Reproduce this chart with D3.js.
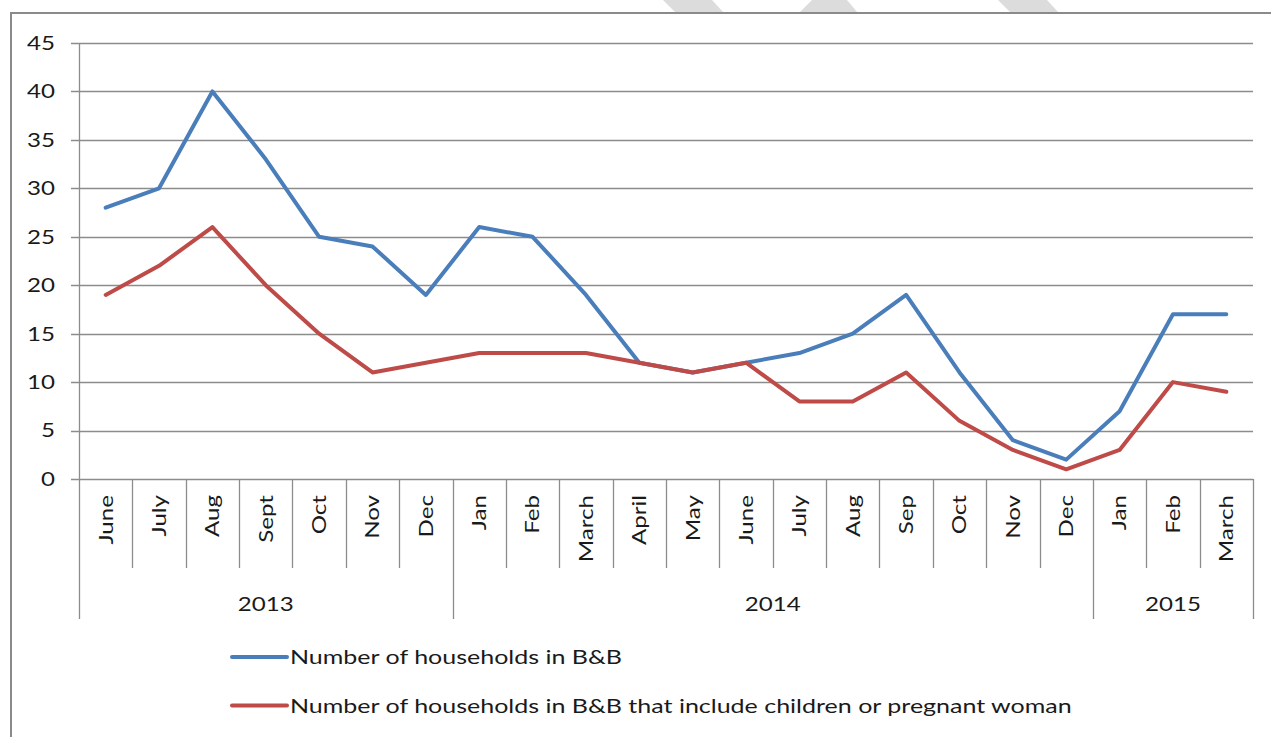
<!DOCTYPE html>
<html>
<head>
<meta charset="utf-8">
<script src="https://cdn.jsdelivr.net/npm/d3@7"></script>
<style>
  body { margin: 0; background: #fff; }
  text { font-family: Lato, "Noto Sans", sans-serif; fill: #1a1a1a; }
</style>
</head>
<body>
<script>
"use strict"
const w = 1271;
const h = 737;

// data
const months = ['June', 'July', 'Aug', 'Sept', 'Oct', 'Nov', 'Dec',
  'Jan', 'Feb', 'March', 'April', 'May', 'June', 'July', 'Aug', 'Sep', 'Oct', 'Nov', 'Dec',
  'Jan', 'Feb', 'March'];
const years = ['2013', '2014', '2015'];
const yearMonths = [7, 12, 3];
const allHouseholds = [28, 30, 40, 33, 25, 24, 19, 26, 25, 19, 12, 11, 12, 13, 15, 19, 11, 4, 2, 7, 17, 17];
const withChildren = [19, 22, 26, 20, 15, 11, 12, 13, 13, 13, 12, 11, 12, 8, 8, 11, 6, 3, 1, 3, 10, 9];
const yTicks = [0, 5, 10, 15, 20, 25, 30, 35, 40, 45];
const seriesNames = ['Number of households in B&B',
  'Number of households in B&B that include children or pregnant woman'];
const colors = ['#4a7ebb', '#be4b48'];

const plotLeft = 79, plotRight = 1253, plotTop = 43, plotBottom = 479;
// the original font renders wider than Lato, so stretch glyphs along the text
const stretch = 'scale(1.27,1)';

const mySvg = d3.select('body')
  .append('svg')
  .attr('width', w)
  .attr('height', h);

// faint watermark bits above the frame
const marks = [
  [[663, 0], [712, 0], [723, 12], [675, 12]],
  [[812, 0], [847, 0], [857, 12], [800, 12]],
  [[998, 0], [1047, 0], [1058, 12], [1010, 12]]
];
mySvg.selectAll('polygon.wm')
  .data(marks)
  .enter()
  .append('polygon')
  .attr('points', d => d.map(p => p.join(',')).join(' '))
  .attr('fill', '#dcdcdc');

// chart frame
mySvg.append('path')
  .attr('d', 'M11,' + (h + 2) + ' V13 H' + (w + 2))
  .attr('fill', 'none')
  .attr('stroke', '#8a8a8a')
  .attr('stroke-width', 2);

const xScale = d3.scaleBand()
  .domain(d3.range(months.length))
  .range([plotLeft, plotRight]);

const yScale = d3.scaleLinear()
  .domain([0, 45])
  .range([plotBottom, plotTop]);

// gridlines
mySvg.append('g')
  .selectAll('line')
  .data(yTicks)
  .enter()
  .append('line')
  .attr('x1', plotLeft - 8)
  .attr('x2', plotRight)
  .attr('y1', d => Math.round(yScale(d)) + 0.5)
  .attr('y2', d => Math.round(yScale(d)) + 0.5)
  .attr('stroke', '#8c8c8c')
  .attr('stroke-width', 1.3);

// y labels
mySvg.append('g')
  .selectAll('text')
  .data(yTicks)
  .enter()
  .append('text')
  .attr('transform', d => 'translate(55,' + yScale(d) + ') ' + stretch)
  .attr('dy', '0.36em')
  .attr('text-anchor', 'end')
  .style('font-size', '19px')
  .text(d => d);

// y axis line
mySvg.append('line')
  .attr('x1', plotLeft + 0.5).attr('x2', plotLeft + 0.5)
  .attr('y1', plotTop).attr('y2', 619)
  .attr('stroke', '#8c8c8c')
  .attr('stroke-width', 1.3);

// month dividers
const bounds = d3.range(months.length + 1).map(i => plotLeft + i * xScale.bandwidth());
const yearStarts = [0];
yearMonths.forEach((n, i) => yearStarts.push(yearStarts[i] + n));

mySvg.append('g')
  .selectAll('line')
  .data(bounds.slice(1))
  .enter()
  .append('line')
  .attr('x1', d => Math.round(d) + 0.5)
  .attr('x2', d => Math.round(d) + 0.5)
  .attr('y1', plotBottom)
  .attr('y2', (d, i) => yearStarts.includes(i + 1) ? 619 : 568)
  .attr('stroke', '#8c8c8c')
  .attr('stroke-width', 1.3);

// month labels
mySvg.append('g')
  .selectAll('text')
  .data(months)
  .enter()
  .append('text')
  .attr('transform', (d, i) => 'translate(' + (xScale(i) + xScale.bandwidth() / 2) + ',495) rotate(-90) ' + stretch)
  .attr('dy', '0.36em')
  .attr('text-anchor', 'end')
  .style('font-size', '19px')
  .text(d => d);

// year labels
mySvg.append('g')
  .selectAll('text')
  .data(years)
  .enter()
  .append('text')
  .attr('transform', (d, i) => 'translate(' + ((bounds[yearStarts[i]] + bounds[yearStarts[i + 1]]) / 2) + ',604) ' + stretch)
  .attr('dy', '0.36em')
  .attr('text-anchor', 'middle')
  .style('font-size', '19px')
  .text(d => d);

// lines
const line = d3.line()
  .x((d, i) => xScale(i) + xScale.bandwidth() / 2)
  .y(d => yScale(d));

[allHouseholds, withChildren].forEach((s, k) => {
  mySvg.append('path')
    .datum(s)
    .attr('d', line)
    .attr('fill', 'none')
    .attr('stroke', colors[k])
    .attr('stroke-width', 4)
    .attr('stroke-linejoin', 'round')
    .attr('stroke-linecap', 'round');
});

// legend
const legend = mySvg.append('g')
  .selectAll('g')
  .data(seriesNames)
  .enter()
  .append('g')
  .attr('transform', (d, i) => 'translate(232,' + (657 + i * 48.5) + ')');

legend.append('line')
  .attr('x1', 0).attr('x2', 55)
  .attr('stroke', (d, i) => colors[i])
  .attr('stroke-width', 4)
  .attr('stroke-linecap', 'round');

legend.append('text')
  .attr('transform', 'translate(58,0) ' + stretch)
  .attr('dy', '0.36em')
  .style('font-size', '19.7px')
  .text(d => d);
</script>
</body>
</html>
